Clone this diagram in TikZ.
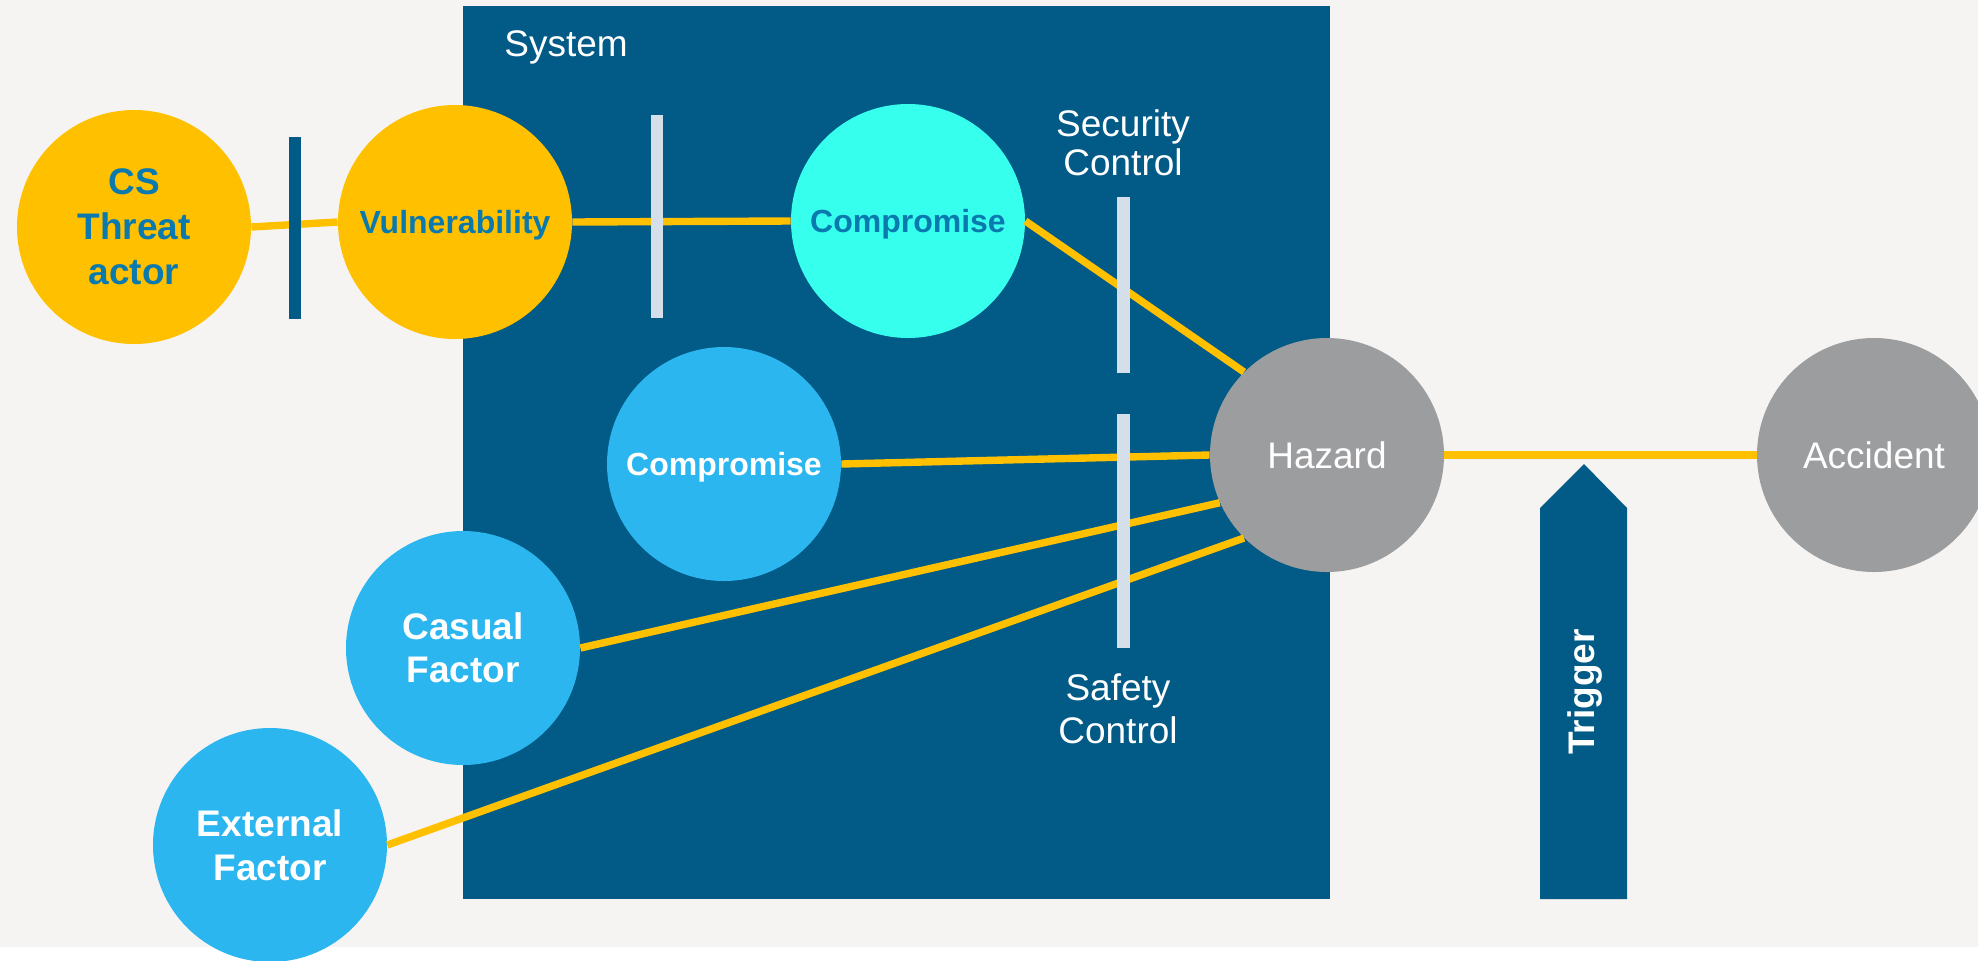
\documentclass[tikz,border=0pt]{standalone}
\usepackage{fontspec}
\setmainfont{Liberation Sans}
\definecolor{bgc}{HTML}{F5F4F2}
\definecolor{sysblue}{HTML}{025A87}
\definecolor{gold}{HTML}{FFC000}
\definecolor{cyanc}{HTML}{36FFEE}
\definecolor{skyc}{HTML}{2CB6F0}
\definecolor{grayc}{HTML}{9C9D9F}
\definecolor{barc}{HTML}{D5DFEA}
\definecolor{txtblue}{HTML}{0A7AAE}
\tikzset{
  bubble/.style={circle, minimum size=117pt, inner sep=0pt, align=center},
  oneline/.style={text depth=0pt},
  link/.style={draw=gold, line width=3.7pt},
  wlabel/.style={text=white, font=\fontsize{18.5pt}{20pt}\selectfont, align=center},
}
\begin{document}
\begin{tikzpicture}[x=0.5pt, y=-0.5pt]
\useasboundingbox (0,0) rectangle (1978,960);
\fill[white] (0,0) rectangle (1978,960);
\fill[bgc] (0,0) rectangle (1978,947);
% system box
\fill[sysblue] (463,6) rectangle (1330,899);
\node[wlabel, anchor=center] (system) at (566,47) {System};
% trigger arrow
\fill[sysblue] (1540,899) -- (1540,508) -- (1584,464) -- (1627,508) -- (1627,899) -- cycle;
\node[text=white, font=\bfseries\fontsize{18.5pt}{20pt}\selectfont, rotate=90] (trigger) at (1585,692) {Trigger};
% nodes
\node[bubble, fill=gold, text=txtblue, font=\bfseries\fontsize{18.5pt}{22.5pt}\selectfont] (cs) at (134,227) {CS\\Threat\\actor};
\node[bubble, oneline, fill=gold, text=txtblue, font=\bfseries\fontsize{16pt}{19pt}\selectfont] (vul) at (455,222) {Vulnerability};
\node[bubble, oneline, fill=cyanc, text=txtblue, font=\bfseries\fontsize{16pt}{19pt}\selectfont] (comp1) at (908,221) {Compromise};
\node[bubble, oneline, fill=skyc, text=white, font=\bfseries\fontsize{16pt}{19pt}\selectfont] (comp2) at (724,464) {Compromise};
\node[bubble, fill=skyc, text=white, font=\bfseries\fontsize{18.5pt}{21.5pt}\selectfont] (casual) at (463,648) {Casual\\Factor};
\node[bubble, fill=skyc, text=white, font=\bfseries\fontsize{18.5pt}{22pt}\selectfont] (ext) at (270,845) {External\\Factor};
\node[bubble, oneline, fill=grayc, text=white, font=\fontsize{18.5pt}{20pt}\selectfont] (hazard) at (1327,455) {Hazard};
\node[bubble, oneline, fill=grayc, text=white, font=\fontsize{18.5pt}{20pt}\selectfont] (accident) at (1874,455) {Accident};
% links
\draw[link] (cs.east) -- (vul.west);
\draw[link] (vul.east) -- (comp1.west);
\draw[link] (comp1.east) -- (hazard.135);
\draw[link] (comp2.east) -- (hazard.west);
\draw[link] (casual.east) -- (hazard.204);
\draw[link] (ext.east) -- (hazard.225);
\draw[link] (hazard.east) -- (accident.west);
% bars
\fill[sysblue] (289,137) rectangle (301,319);
\fill[barc] (651,115) rectangle (663,318);
\fill[barc] (1117,197) rectangle (1130,373);
\fill[barc] (1117,414) rectangle (1130,648);
% control labels
\node[text=white, font=\fontsize{18.5pt}{19.5pt}\selectfont, align=center] (secctl) at (1123,143) {Security\\Control};
\node[text=white, font=\fontsize{18.5pt}{21.5pt}\selectfont, align=center] (safctl) at (1118,709) {Safety\\Control};
\end{tikzpicture}
\end{document}
